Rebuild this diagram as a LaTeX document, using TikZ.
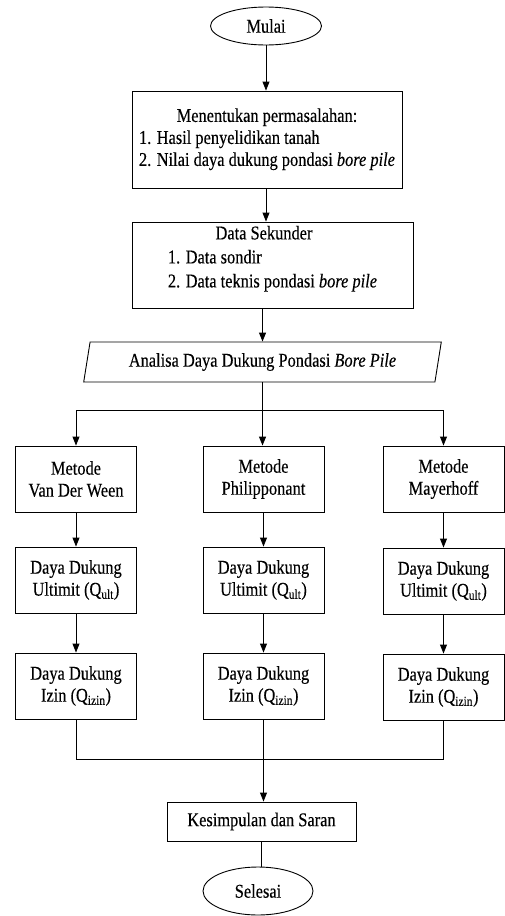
\documentclass[tikz,border=0pt]{standalone}
\usepackage{fontspec}
\setmainfont{Liberation Serif}[FakeStretch=0.84,FakeBold=0.3]
\usetikzlibrary{positioning,shapes.geometric,arrows.meta}
\tikzset{
  kotak/.style={draw,line width=0.9pt,minimum width=121pt,minimum height=66pt,align=center,inner sep=2pt},
  oval/.style={draw,ellipse,line width=0.9pt,inner sep=0pt},
  jajar/.style={draw,trapezium,trapezium left angle=77,trapezium right angle=103,trapezium stretches=true,line width=0.9pt,inner sep=2pt},
  panah/.style={draw,line width=0.9pt,-{Triangle[length=9pt,width=7pt]}},
  garis/.style={draw,line width=0.9pt}
}
\begin{document}
\begin{tikzpicture}[x=1pt,y=-1pt,node distance=100pt,font=\fontsize{19.5}{22}\selectfont]
\useasboundingbox (0,0) rectangle (505,916);
\node[oval,minimum width=111pt,minimum height=38pt](MUL) at (266,26){Mulai};
\node[kotak,below of = MUL,xshift=1pt,yshift=-13.5pt,minimum width=270pt,minimum height=97pt](MAS){\begin{tabular}{@{}l@{}}\multicolumn{1}{@{}c@{}}{Menentukan permasalahan:}\\1. Hasil penyelidikan tanah\\2. Nilai daya dukung pondasi \textit{bore pile}\end{tabular}};
\node[kotak,below of = MAS,xshift=5.5pt,yshift=-25.5pt,minimum width=281pt,minimum height=86pt](DAT){\begin{tabular}{@{}l@{}}\multicolumn{1}{@{}c@{}}{Data Sekunder\hspace*{17pt}}\\[2pt]1. Data sondir\\[2pt]2. Data teknis pondasi \textit{bore pile}\\[12pt]\end{tabular}};
\node[jajar,below of = DAT,xshift=-10pt,yshift=3pt,minimum width=359pt,minimum height=40pt](ANA){Analisa Daya Dukung Pondasi \textit{Bore Pile}};
% tiga metode
\node[kotak,below of = ANA,xshift=1pt,yshift=-17pt](MT2){Metode\\Philipponant};
\node[kotak,left of = MT2,xshift=-87.5pt](MT1){Metode\\Van Der Ween};
\node[kotak,right of = MT2,xshift=80pt](MT3){Metode\\Mayerhoff};
\node[kotak,below of = MT1,yshift=-1pt](UL1){Daya Dukung\\Ultimit (Q\textsubscript{ult})};
\node[kotak,below of = MT2,yshift=-1pt](UL2){Daya Dukung\\Ultimit (Q\textsubscript{ult})};
\node[kotak,below of = MT3,yshift=-2pt](UL3){Daya Dukung\\Ultimit (Q\textsubscript{ult})};
\node[kotak,below of = UL1,yshift=-6pt](IZ1){Daya Dukung\\Izin (Q\textsubscript{izin})};
\node[kotak,below of = UL2,yshift=-6pt](IZ2){Daya Dukung\\Izin (Q\textsubscript{izin})};
\node[kotak,below of = UL3,yshift=-6pt](IZ3){Daya Dukung\\Izin (Q\textsubscript{izin})};
\node[kotak,below of = IZ2,xshift=-2pt,yshift=-35.5pt,minimum width=189pt,minimum height=39pt](KES){Kesimpulan dan Saran};
\node[oval,below of = KES,xshift=-3.5pt,yshift=30.5pt,minimum width=110pt,minimum height=48pt](SEL){Selesai};
\coordinate (BR) at ([yshift=-28pt]ANA.south);
\coordinate (JN) at ([yshift=-40pt]IZ2.south);
\draw[panah] (MUL.south) -- (MUL.south |- MAS.north);
\draw[panah] (MUL.south |- MAS.south) -- (MUL.south |- DAT.north);
\draw[panah] (ANA.north |- DAT.south) -- (ANA.north);
\draw[garis] (ANA.south) -- (BR);
\draw[panah] (BR) -| (MT1.north);
\draw[panah] (BR) -- (BR |- MT2.north);
\draw[panah] (BR) -| (MT3.north);
\draw[panah] (MT1) -- (UL1);
\draw[panah] (MT2) -- (UL2);
\draw[panah] (MT3) -- (UL3);
\draw[panah] (UL1) -- (IZ1);
\draw[panah] (UL2) -- (IZ2);
\draw[panah] (UL3) -- (IZ3);
\draw[garis] (IZ1.south) |- (JN) -| (IZ3.south);
\draw[garis] (IZ2.south) -- (JN);
\draw[panah] (JN) -- (JN |- KES.north);
\draw[garis] (KES.south) -- (KES.south |- SEL.north);
\end{tikzpicture}
\end{document}
